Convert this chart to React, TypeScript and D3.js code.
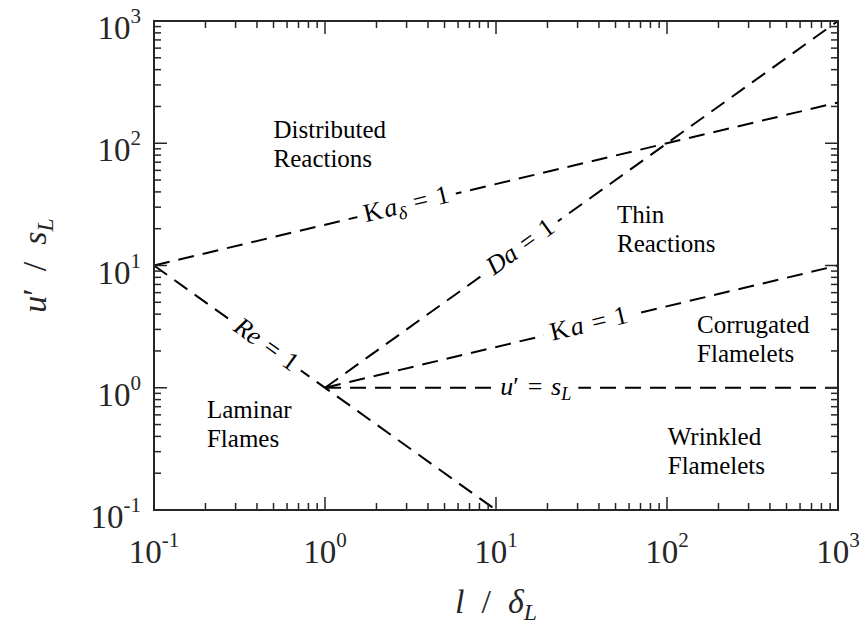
import React, { useEffect, useRef } from "react";
import * as d3 from "d3";

const WIDTH = 861;
const HEIGHT = 626;
const PLOT = { left: 154, right: 838, top: 21, bottom: 510 };

// axis decades
const xExponents = [-1, 0, 1, 2, 3];
const yExponents = [-1, 0, 1, 2, 3];

// regime boundaries, points given as [l/δL, u'/sL]
const reUnity: [number, number][] = [[0.1, 10], [10, 0.1]];
const daUnity: [number, number][] = [[1, 1], [1000, 1000]];
const kaUnity: [number, number][] = [[1, 1], [1000, 10]];
const kaDeltaUnity: [number, number][] = [[0.1, 10], [1000, 215.4]];
const velocityUnity: [number, number][] = [[1, 1], [1000, 1]];

const boundaries = [reUnity, daUnity, kaUnity, kaDeltaUnity, velocityUnity];

type Seg = { t: string; it?: boolean; sub?: boolean; dx?: number };

// labels riding on the boundaries: line, l/δL of the label centre, text pieces
const lineLabels: { line: [number, number][]; at: number; parts: Seg[] }[] = [
  { line: kaDeltaUnity, at: 3.0, parts: [{ t: "K" }, { t: "a", it: true, dx: 2 }, { t: "δ", it: true, sub: true }, { t: "\u2004=\u2004" }, { t: "1" }] },
  { line: daUnity, at: 14.0, parts: [{ t: "D", it: true }, { t: "a", it: true }, { t: "\u2004=\u2004" }, { t: "1" }] },
  { line: kaUnity, at: 35.0, parts: [{ t: "K" }, { t: "a", it: true, dx: 2 }, { t: "\u2004=\u2004" }, { t: "1" }] },
  { line: velocityUnity, at: 17.1, parts: [{ t: "u", it: true }, { t: "′" }, { t: "\u2004=\u2004" }, { t: "s", it: true }, { t: "L", it: true, sub: true }] },
  { line: reUnity, at: 0.45, parts: [{ t: "R", it: true }, { t: "e", it: true }, { t: "\u2004=\u2004" }, { t: "1" }] },
];

// combustion regimes: first line, second line, anchor [l/δL, u'/sL] of the first baseline
const regimeNames = [
  { lines: ["Distributed", "Reactions"], at: [0.5, 110] },
  { lines: ["Thin", "Reactions"], at: [51, 22.3] },
  { lines: ["Corrugated", "Flamelets"], at: [150, 2.81] },
  { lines: ["Wrinkled", "Flamelets"], at: [101, 0.341] },
  { lines: ["Laminar", "Flames"], at: [0.204, 0.568] },
];

const AXIS_COLOR = "#262626";
const SERIF = "'Liberation Serif', 'Times New Roman', serif";

function appendRich(text: d3.Selection<SVGTextElement, unknown, null, undefined>, parts: Seg[], size: number) {
  let shift = 0;
  parts.forEach((p) => {
    const target = p.sub ? size * 0.22 : 0;
    const ts = text.append("tspan").text(p.t);
    if (p.it) ts.attr("font-style", "italic");
    if (p.sub) ts.attr("font-size", size * 0.7);
    if (p.dx) ts.attr("dx", p.dx);
    if (target !== shift) {
      ts.attr("dy", target - shift);
      shift = target;
    }
  });
}

export default function App() {
  const ref = useRef<SVGSVGElement>(null);

  useEffect(() => {
    const svg = d3.select(ref.current);
    svg.selectAll("*").remove();

    const x = d3.scaleLog().domain([0.1, 1000]).range([PLOT.left, PLOT.right]);
    const y = d3.scaleLog().domain([0.1, 1000]).range([PLOT.bottom, PLOT.top]);

    // regime boundaries
    const line = d3
      .line<[number, number]>()
      .x((d) => x(d[0]))
      .y((d) => y(d[1]));
    svg
      .append("g")
      .selectAll("path")
      .data(boundaries)
      .join("path")
      .attr("d", (d) => line(d))
      .attr("fill", "none")
      .attr("stroke", "#000")
      .attr("stroke-width", 2)
      .attr("stroke-dasharray", "16,9");

    // boundary labels
    lineLabels.forEach((lb) => {
      const [p0, p1] = lb.line;
      const ax = x(p0[0]), ay = y(p0[1]);
      const bx = x(p1[0]), by = y(p1[1]);
      const angle = (Math.atan2(by - ay, bx - ax) * 180) / Math.PI;
      const t = (Math.log(lb.at) - Math.log(p0[0])) / (Math.log(p1[0]) - Math.log(p0[0]));
      const yv = Math.exp(Math.log(p0[1]) + t * (Math.log(p1[1]) - Math.log(p0[1])));
      const g = svg
        .append("g")
        .attr("transform", `translate(${x(lb.at)},${y(yv)}) rotate(${angle})`);
      const bg = g.append("rect").attr("fill", "#fff");
      const size = 26;
      const txt = g
        .append("text")
        .attr("x", 0)
        .attr("y", 7)
        .attr("text-anchor", "middle")
        .attr("font-family", SERIF)
        .attr("font-size", size)
        .attr("fill", "#000");
      appendRich(txt, lb.parts, size);
      const bb = (txt.node() as SVGTextElement).getBBox();
      bg.attr("x", bb.x - 7).attr("y", -5).attr("width", bb.width + 14).attr("height", 10);
    });

    // regime names
    regimeNames.forEach((r) => {
      const tx = svg
        .append("text")
        .attr("font-family", SERIF)
        .attr("font-size", 25)
        .attr("fill", "#000");
      r.lines.forEach((s, i) => {
        tx.append("tspan")
          .attr("x", x(r.at[0]))
          .attr("y", y(r.at[1]) + i * 29)
          .text(s);
      });
    });

    // ticks, inside and mirrored
    const ticks = svg.append("g").attr("stroke", AXIS_COLOR).attr("stroke-width", 1.5);
    const majors = (exps: number[]) => exps.map((e) => Math.pow(10, e));
    const minors = (exps: number[]) => {
      const out: number[] = [];
      for (let i = 0; i < exps.length - 1; i++)
        for (let m = 2; m <= 9; m++) out.push(m * Math.pow(10, exps[i]));
      return out;
    };
    const xt = [
      ...majors(xExponents).map((v) => ({ v, len: 13 })),
      ...minors(xExponents).map((v) => ({ v, len: 7 })),
    ];
    const yt = [
      ...majors(yExponents).map((v) => ({ v, len: 13 })),
      ...minors(yExponents).map((v) => ({ v, len: 7 })),
    ];
    xt.forEach(({ v, len }) => {
      ticks.append("line").attr("x1", x(v)).attr("x2", x(v)).attr("y1", PLOT.bottom).attr("y2", PLOT.bottom - len);
      ticks.append("line").attr("x1", x(v)).attr("x2", x(v)).attr("y1", PLOT.top).attr("y2", PLOT.top + len);
    });
    yt.forEach(({ v, len }) => {
      ticks.append("line").attr("y1", y(v)).attr("y2", y(v)).attr("x1", PLOT.left).attr("x2", PLOT.left + len);
      ticks.append("line").attr("y1", y(v)).attr("y2", y(v)).attr("x1", PLOT.right).attr("x2", PLOT.right - len);
    });

    // axes box
    svg
      .append("rect")
      .attr("x", PLOT.left)
      .attr("y", PLOT.top)
      .attr("width", PLOT.right - PLOT.left)
      .attr("height", PLOT.bottom - PLOT.top)
      .attr("fill", "none")
      .attr("stroke", AXIS_COLOR)
      .attr("stroke-width", 2);

    // tick labels 10^n
    const powerLabel = (px: number, py: number, e: number, anchor: string) => {
      const t = svg
        .append("text")
        .attr("x", px)
        .attr("y", py)
        .attr("text-anchor", anchor)
        .attr("font-family", SERIF)
        .attr("font-size", 33)
        .attr("fill", AXIS_COLOR);
      t.append("tspan").text("10");
      t.append("tspan").attr("font-size", 21).attr("dy", -16).text(e < 0 ? `-${-e}` : `${e}`);
    };
    xExponents.forEach((e) => powerLabel(x(Math.pow(10, e)), PLOT.bottom + 53, e, "middle"));
    yExponents.forEach((e) => powerLabel(PLOT.left - 13, y(Math.pow(10, e)) + 18, e, "end"));

    // axis titles
    const xl = svg
      .append("text")
      .attr("x", (PLOT.left + PLOT.right) / 2)
      .attr("y", 613)
      .attr("text-anchor", "middle")
      .attr("font-family", SERIF)
      .attr("font-size", 34)
      .attr("fill", AXIS_COLOR);
    appendRich(xl, [{ t: "l", it: true }, { t: "\u2002/\u2002" }, { t: "δ", it: true }, { t: "L", it: true, sub: true }], 34);

    const yl = svg
      .append("text")
      .attr("transform", `translate(46,${(PLOT.top + PLOT.bottom) / 2}) rotate(-90)`)
      .attr("text-anchor", "middle")
      .attr("font-family", SERIF)
      .attr("font-size", 34)
      .attr("fill", AXIS_COLOR);
    appendRich(yl, [{ t: "u", it: true }, { t: "′" }, { t: "\u2002/\u2002" }, { t: "s", it: true }, { t: "L", it: true, sub: true }], 34);
  }, []);

  return (
    <svg
      ref={ref}
      width={WIDTH}
      height={HEIGHT}
      style={{ position: "absolute", left: 0, top: 0, background: "#fff" }}
    />
  );
}
